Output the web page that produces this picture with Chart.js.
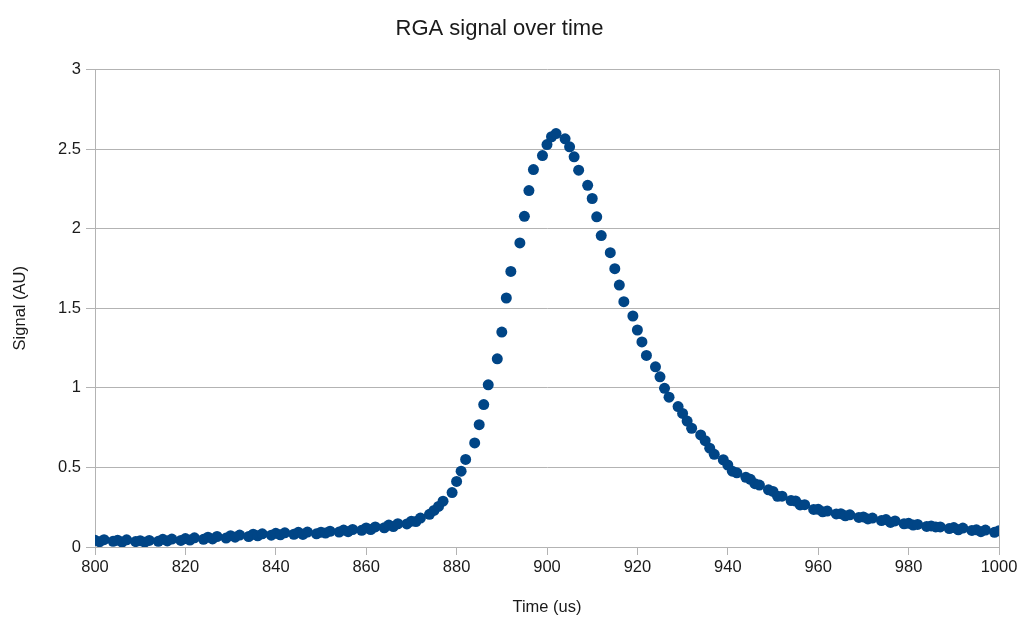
<!DOCTYPE html>
<html>
<head>
  <title>RGA signal over time</title>
  <script src="https://cdn.jsdelivr.net/npm/chart.js@4.4.0/dist/chart.umd.min.js"></script>
  <style>
    html, body { margin: 0; padding: 0; background: #fff; }
    #wrap { width: 1024px; height: 621px; }
  </style>
</head>
<body>
  <div id="wrap"><canvas id="myChart" width="1024" height="621"></canvas></div>
  <script>
    // sample times (us)
    const times = [
      800, 801, 802, 804, 805, 806, 807, 809, 810, 811, 812, 814,
      815, 816, 817, 819, 820, 821, 822, 824, 825, 826, 827, 829,
      830, 831, 832, 834, 835, 836, 837, 839, 840, 841, 842, 844,
      845, 846, 847, 849, 850, 851, 852, 854, 855, 856, 857, 859,
      860, 861, 862, 864, 865, 866, 867, 869, 870, 871, 872, 874,
      875, 876, 877, 879, 880, 881, 882, 884, 885, 886, 887, 889,
      890, 891, 892, 894, 895, 896, 897, 899, 900, 901, 902, 904,
      905, 906, 907, 909, 910, 911, 912, 914, 915, 916, 917, 919,
      920, 921, 922, 924, 925, 926, 927, 929, 930, 931, 932, 934,
      935, 936, 937, 939, 940, 941, 942, 944, 945, 946, 947, 949,
      950, 951, 952, 954, 955, 956, 957, 959, 960, 961, 962, 964,
      965, 966, 967, 969, 970, 971, 972, 974, 975, 976, 977, 979,
      980, 981, 982, 984, 985, 986, 987, 989, 990, 991, 992, 994,
      995, 996, 997, 999, 1000
    ];
    // signal (AU)
    const signal = [
      0.042, 0.033, 0.046, 0.036, 0.043, 0.031, 0.045, 0.034, 0.040, 0.030, 0.041, 0.036,
      0.048, 0.038, 0.050, 0.041, 0.053, 0.044, 0.058, 0.048, 0.062, 0.051, 0.066, 0.056,
      0.071, 0.062, 0.075, 0.066, 0.080, 0.070, 0.083, 0.074, 0.086, 0.077, 0.089, 0.080,
      0.092, 0.079, 0.094, 0.083, 0.093, 0.088, 0.099, 0.094, 0.106, 0.096, 0.110, 0.105,
      0.120, 0.110, 0.126, 0.121, 0.138, 0.128, 0.146, 0.145, 0.162, 0.160, 0.182, 0.205,
      0.230, 0.255, 0.288, 0.342, 0.412, 0.476, 0.550, 0.654, 0.768, 0.895, 1.019, 1.182,
      1.350, 1.564, 1.731, 1.910, 2.077, 2.239, 2.371, 2.459, 2.528, 2.577, 2.597, 2.564,
      2.514, 2.451, 2.367, 2.272, 2.189, 2.074, 1.956, 1.849, 1.748, 1.645, 1.541, 1.451,
      1.363, 1.288, 1.203, 1.132, 1.069, 0.997, 0.941, 0.882, 0.839, 0.791, 0.746, 0.704,
      0.668, 0.621, 0.582, 0.548, 0.515, 0.476, 0.466, 0.438, 0.425, 0.398, 0.389, 0.359,
      0.349, 0.318, 0.319, 0.292, 0.289, 0.264, 0.266, 0.236, 0.237, 0.221, 0.226, 0.208,
      0.209, 0.196, 0.202, 0.186, 0.189, 0.176, 0.182, 0.166, 0.172, 0.154, 0.164, 0.146,
      0.149, 0.138, 0.142, 0.129, 0.132, 0.126, 0.126, 0.116, 0.122, 0.108, 0.119, 0.104,
      0.108, 0.096, 0.106, 0.092, 0.102
    ];
    const xTicks = [800, 820, 840, 860, 880, 900, 920, 940, 960, 980, 1000];
    const yTicks = [0, 0.5, 1, 1.5, 2, 2.5, 3];

    const gridColor = '#b3b3b3';
    const font = 'Liberation Sans, Arial, sans-serif';

    // right edge of the plot frame
    const frameRight = {
      id: 'frameRight',
      afterDraw(chart) {
        const a = chart.chartArea;
        const c = chart.ctx;
        c.save();
        c.strokeStyle = gridColor;
        c.lineWidth = 1;
        c.beginPath();
        c.moveTo(Math.round(a.right) + 0.5, a.top);
        c.lineTo(Math.round(a.right) + 0.5, a.bottom);
        c.stroke();
        c.restore();
      }
    };

    var ctx = document.getElementById('myChart').getContext('2d');
    var myChart = new Chart(ctx, {
      type: 'scatter',
      data: {
        datasets: [{
          label: 'Signal',
          data: times.map((t, i) => ({ x: t, y: signal[i] })),
          backgroundColor: '#004586',
          borderColor: '#004586',
          borderWidth: 0,
          pointRadius: 5.5,
          pointHoverRadius: 5.5
        }]
      },
      options: {
        responsive: false,
        animation: false,
        layout: { padding: { left: 0, right: 25, top: 0, bottom: 0 } },
        plugins: {
          legend: { display: false },
          tooltip: { enabled: false },
          title: {
            display: true,
            text: 'RGA signal over time',
            color: '#1a1a1a',
            font: { family: font, size: 22, weight: 'normal' },
            padding: { top: 16, bottom: 27 }
          }
        },
        scales: {
          x: {
            type: 'linear',
            min: 800,
            max: 1000,
            afterBuildTicks: s => { s.ticks = xTicks.map(v => ({ value: v })); },
            afterFit: s => { s.height = 74; },
            grid: { drawOnChartArea: false, color: gridColor, tickLength: 8 },
            border: { color: gridColor },
            ticks: {
              color: '#1a1a1a',
              padding: 3,
              maxRotation: 0,
              font: { family: font, size: 16.5 },
              callback: v => String(v)
            },
            title: {
              display: true,
              text: 'Time (us)',
              color: '#1a1a1a',
              font: { family: font, size: 16.5 },
              padding: { top: 0, bottom: 4 }
            }
          },
          y: {
            min: 0,
            max: 3,
            afterBuildTicks: s => { s.ticks = yTicks.map(v => ({ value: v })); },
            afterFit: s => { s.width = 95; },
            grid: { color: gridColor, tickLength: 9 },
            border: { color: gridColor },
            ticks: {
              color: '#1a1a1a',
              padding: 5,
              font: { family: font, size: 16.5 },
              callback: v => String(v)
            },
            title: {
              display: true,
              text: 'Signal (AU)',
              color: '#1a1a1a',
              font: { family: font, size: 16.5 },
              padding: { top: 11, bottom: 0 }
            }
          }
        }
      },
      plugins: [frameRight]
    });
  </script>
</body>
</html>
